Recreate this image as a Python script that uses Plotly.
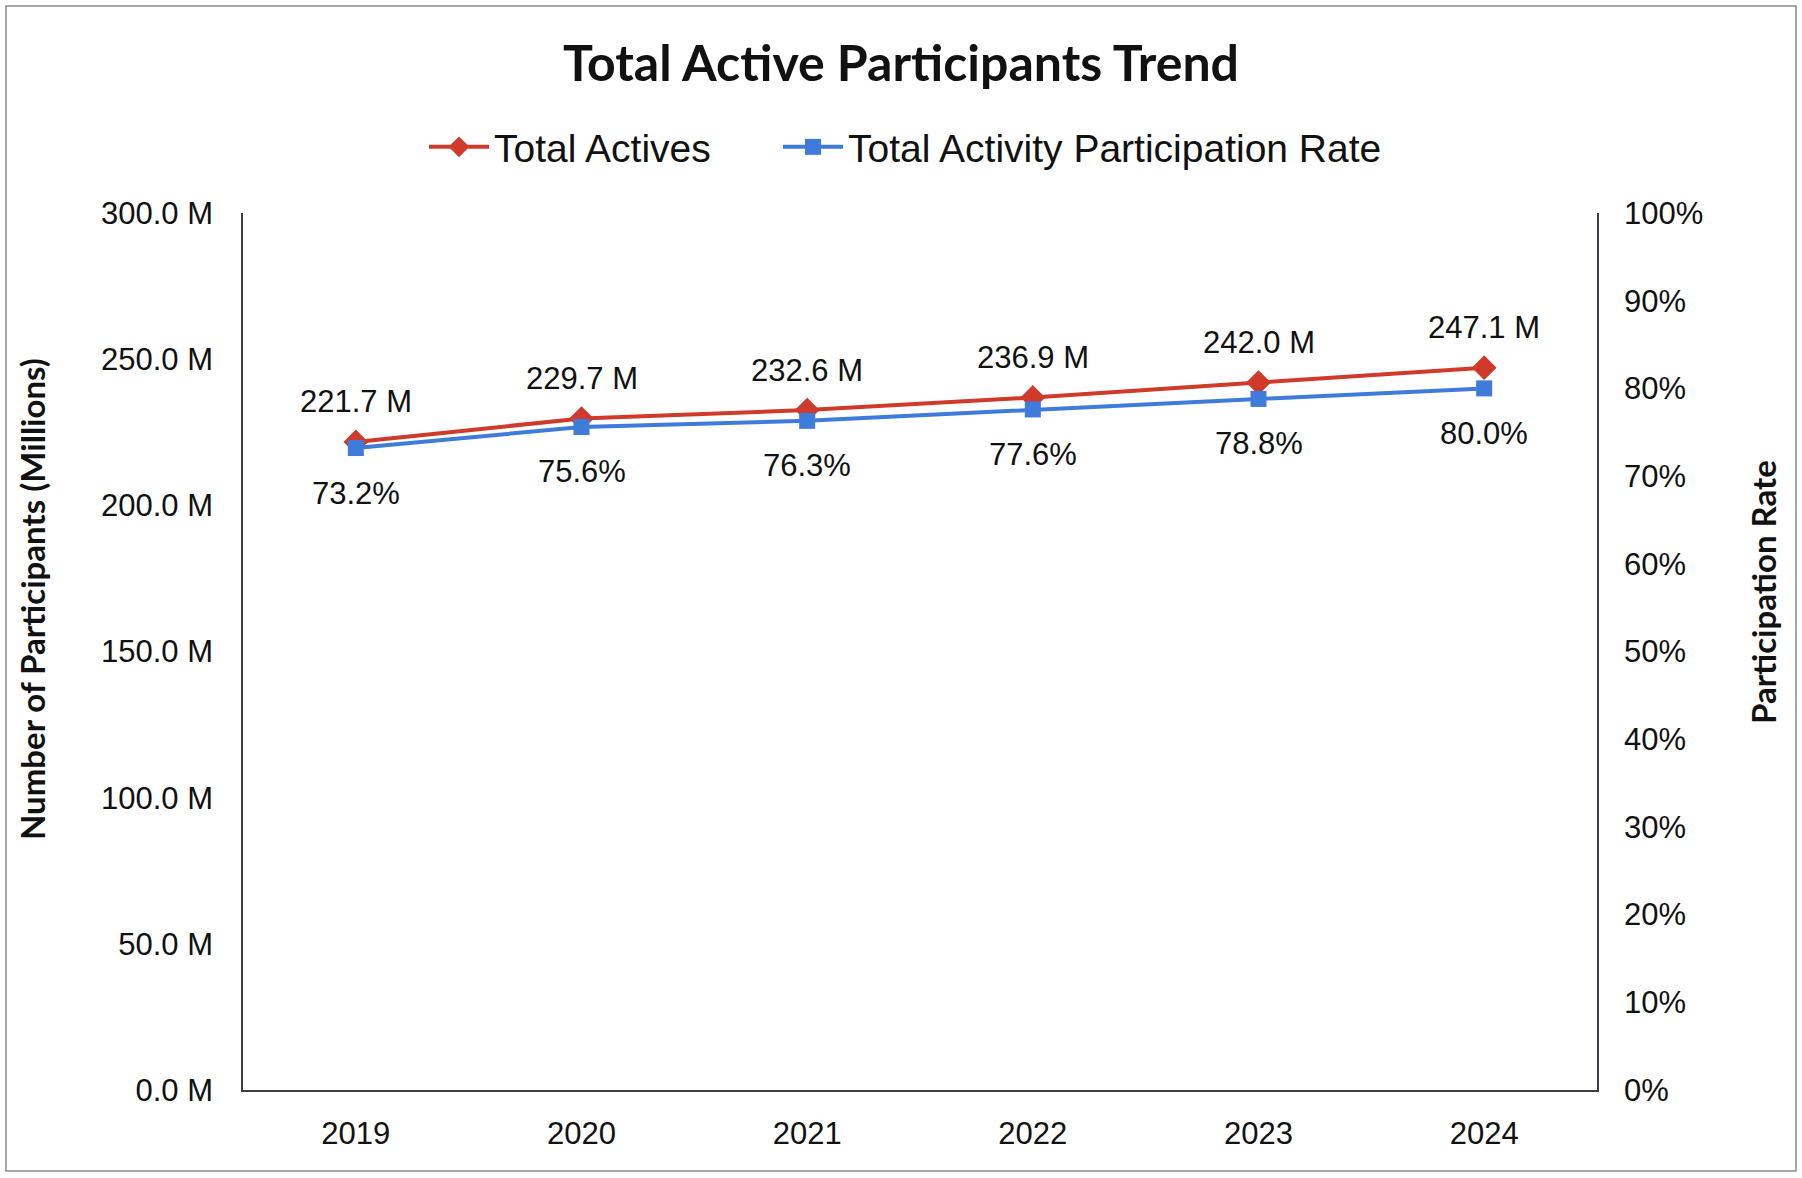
import plotly.graph_objects as go

# --- data ---
years = ["2019", "2020", "2021", "2022", "2023", "2024"]
total_actives = [221.7, 229.7, 232.6, 236.9, 242.0, 247.1]      # millions
participation_rate = [73.2, 75.6, 76.3, 77.6, 78.8, 80.0]        # percent

RED = "#D03A2B"
BLUE = "#3F7BDB"
TXT = "#111111"
SANS = "Liberation Sans, Arial, sans-serif"
BOLD = "Lato, Open Sans, sans-serif"

W, H = 1802, 1178
L, R, T, B = 243, 205, 213, 88

fig = go.Figure()
fig.add_trace(go.Scatter(
    x=years, y=total_actives, name="Total Actives", mode="lines+markers",
    line=dict(color=RED, width=4),
    marker=dict(symbol="diamond", size=19, color=RED),
    legend="legend",
))
fig.add_trace(go.Scatter(
    x=years, y=participation_rate, name="Total Activity Participation Rate",
    mode="lines+markers", yaxis="y2",
    line=dict(color=BLUE, width=4),
    marker=dict(symbol="square", size=16, color=BLUE),
    legend="legend2",
))

# data labels (category index as x, so numeric-looking names aren't misread)
ann = []
for i, v in enumerate(total_actives):
    ann.append(dict(x=i, y=v, xref="x", yref="y", text=f"{v:.1f} M", showarrow=False,
                    yshift=40, xanchor="center", yanchor="middle",
                    font=dict(family=SANS, size=31, color=TXT)))
for i, v in enumerate(participation_rate):
    ann.append(dict(x=i, y=v, xref="x", yref="y2", text=f"{v:.1f}%", showarrow=False,
                    yshift=-45, xanchor="center", yanchor="middle",
                    font=dict(family=SANS, size=31, color=TXT)))

# axis titles
pw, ph = W - L - R, H - T - B
ann.append(dict(x=(32 - L) / pw, y=(H - B - 599) / ph, xref="paper", yref="paper",
                xanchor="center", yanchor="middle",
                text="Number of Participants (Millions)", textangle=-90, showarrow=False,
                font=dict(family=BOLD, size=33, color=TXT, weight="bold")))
ann.append(dict(x=(1763 - L) / pw, y=(H - B - 592) / ph, xref="paper", yref="paper",
                xanchor="center", yanchor="middle",
                text="Participation Rate", textangle=-90, showarrow=False,
                font=dict(family=BOLD, size=33, color=TXT, weight="bold")))

leg = dict(orientation="h", xref="container", xanchor="left",
           y=1 - 147 / H, yref="container", yanchor="middle",
           font=dict(family=SANS, size=39, color=TXT), itemwidth=60,
           bgcolor="rgba(0,0,0,0)")

fig.update_layout(
    width=W, height=H,
    margin=dict(l=L, r=R, t=T, b=B),
    paper_bgcolor="white", plot_bgcolor="white",
    title=dict(text="Total Active Participants Trend", x=0.5, xref="container",
               y=1 - 63 / H, yref="container", yanchor="middle",
               font=dict(family=BOLD, size=50, color=TXT, weight="bold")),
    legend=dict(leg, x=424 / W),
    legend2=dict(leg, x=778 / W),
    xaxis=dict(type="category", range=[-0.5, 5.5], showgrid=False,
               showline=True, linecolor="#3a3f47", linewidth=2,
               ticks="outside", ticklen=15, tickcolor="rgba(0,0,0,0)",
               tickfont=dict(family=SANS, size=31, color=TXT)),
    yaxis=dict(range=[0, 300], dtick=50, tickformat=".1f", ticksuffix=" M",
               showgrid=False, zeroline=False, showline=True, linecolor="#3a3f47",
               linewidth=1.5, ticks="outside", ticklen=22, tickcolor="rgba(0,0,0,0)",
               tickfont=dict(family=SANS, size=31, color=TXT)),
    yaxis2=dict(range=[0, 100], dtick=10, ticksuffix="%", overlaying="y", side="right",
                showgrid=False, zeroline=False, showline=True, linecolor="#3a3f47",
                linewidth=1.5, ticks="outside", ticklen=19, tickcolor="rgba(0,0,0,0)",
                tickfont=dict(family=SANS, size=31, color=TXT)),
    annotations=ann,
    showlegend=True,
)

# outer chart frame
fig.add_shape(type="rect", xref="paper", yref="paper",
              x0=(6 - L) / pw, x1=(1796 - L) / pw,
              y0=(H - B - 1171) / ph, y1=(H - B - 6) / ph,
              line=dict(color="#8a8a8a", width=1.5), layer="below")

fig.write_html("out.html", config={"displayModeBar": False},
               post_script="document.body.style.margin='0';")
